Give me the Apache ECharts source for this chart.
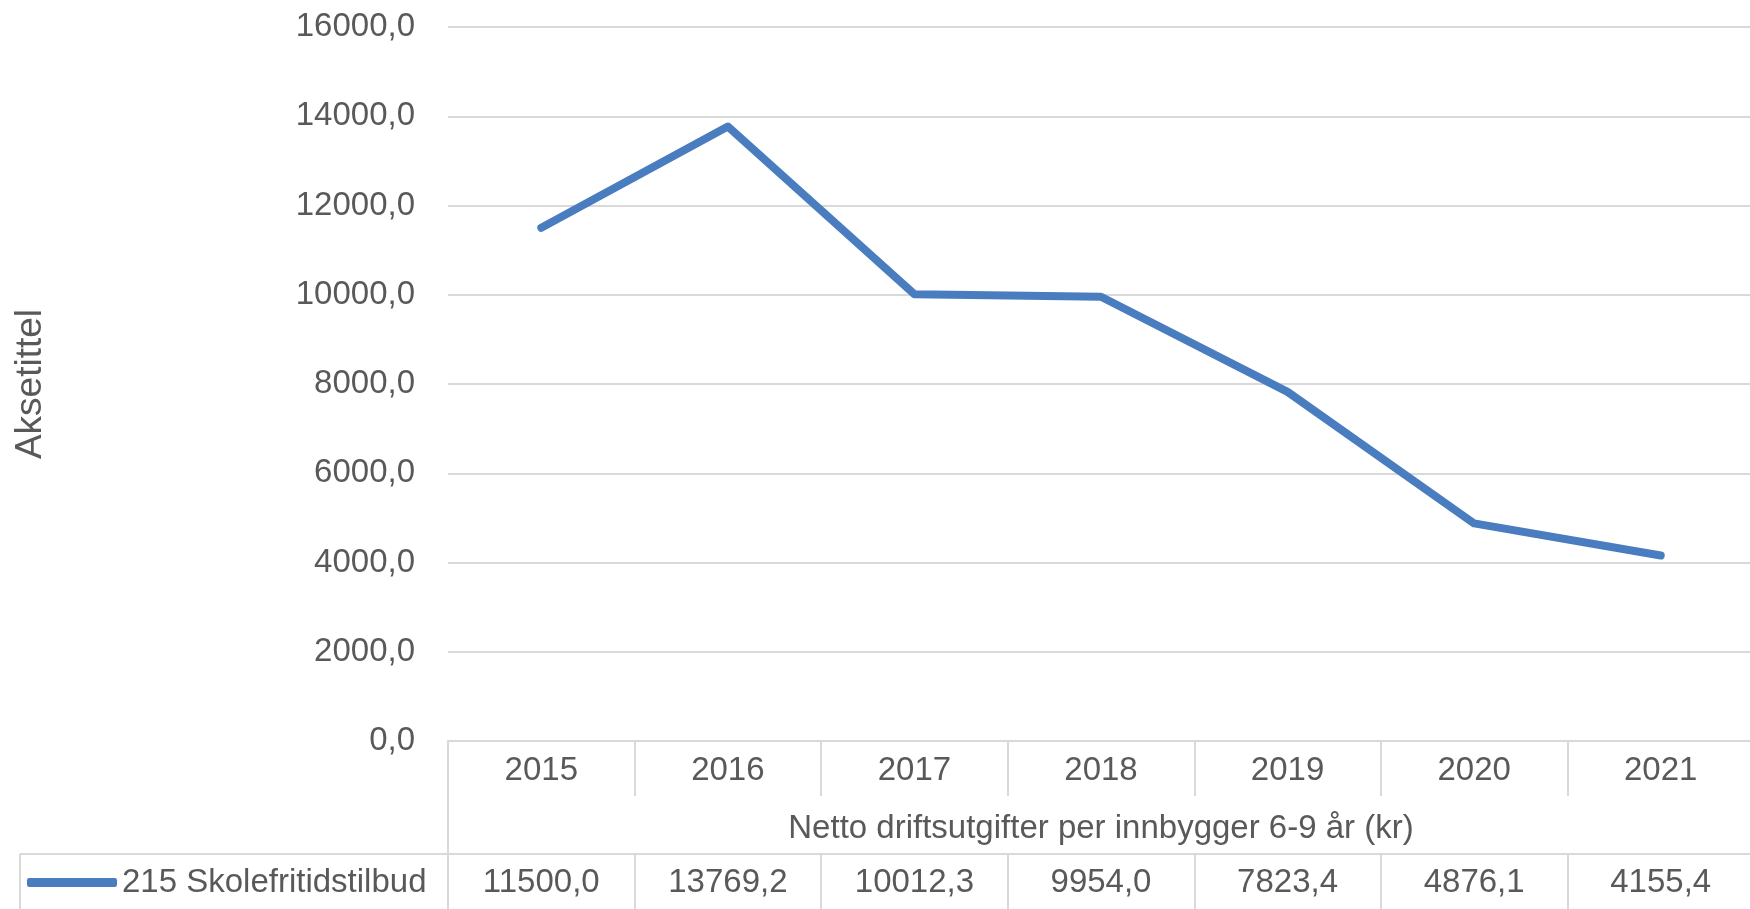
<!DOCTYPE html>
<html>
<head>
<meta charset="utf-8">
<script src="https://cdn.jsdelivr.net/npm/echarts@6/dist/echarts.min.js"></script>
<style>
  html, body { margin: 0; padding: 0; background: #ffffff; }
  #chart { width: 1750px; height: 909px; }
</style>
</head>
<body>
<div id="chart"></div>
<script>
// Netto driftsutgifter per innbygger 6-9 år (kr), 215 Skolefritidstilbud
const years = ['2015', '2016', '2017', '2018', '2019', '2020', '2021'];
const skolefritid = [11500.0, 13769.2, 10012.3, 9954.0, 7823.4, 4876.1, 4155.4];
const seriesName = '215 Skolefritidstilbud';
const categoryTitle = 'Netto driftsutgifter per innbygger 6-9 år (kr)';
const valueTitle = 'Aksetittel';
const yMin = 0, yMax = 16000, yStep = 2000;

// Norwegian number format with one decimal and comma separator
const fmt = v => Number(v).toFixed(1).replace('.', ',');

const FONT = 'Liberation Sans';
const TEXT = '#595959';
const RULE = '#d9d9d9';
const BLUE = '#4a7dbf';

// layout of the plot and the data table below it
const W = 1750, H = 909;
const plotLeft = 448, plotTop = 27, plotBottom = 741;
const rowSplit = 854;          // line between the title row and the values row
const tableLeft = 20;

const chart = echarts.init(document.getElementById('chart'), null, { renderer: 'canvas' });

const line = (x1, y1, x2, y2) => ({
  type: 'line',
  shape: { x1, y1, x2, y2 },
  style: { stroke: RULE, lineWidth: 2 },
  silent: true
});

chart.setOption({
  animation: false,
  backgroundColor: '#ffffff',
  textStyle: { fontFamily: FONT, color: TEXT },
  grid: {
    left: plotLeft, right: -4, top: plotTop, bottom: H - plotBottom,
    containLabel: false, outerBoundsMode: 'none'
  },
  legend: {
    data: [{ name: seriesName, icon: 'roundRect' }],
    left: 27,
    top: 866,
    padding: 0,
    itemWidth: 90,
    itemHeight: 9,
    textStyle: { fontFamily: FONT, fontSize: 33, color: TEXT, padding: [0, 0, 0, 0] },
    selectedMode: false
  },
  xAxis: [
    {
      // year row with its cell dividers
      type: 'category',
      data: years,
      position: 'bottom',
      boundaryGap: true,
      axisLine: { show: true, onZero: false, lineStyle: { color: RULE, width: 2 } },
      axisTick: { show: true, interval: 0, length: 55, lineStyle: { color: RULE, width: 2 } },
      axisLabel: { interval: 0, margin: 13, fontFamily: FONT, fontSize: 33, color: TEXT },
      name: categoryTitle,
      nameLocation: 'middle',
      nameGap: 71,
      nameTextStyle: { fontFamily: FONT, fontSize: 33, color: TEXT },
      splitLine: { show: false }
    },
    {
      // values row of the data table
      type: 'category',
      data: years,
      position: 'bottom',
      offset: rowSplit - plotBottom,
      boundaryGap: true,
      axisLine: { show: true, onZero: false, lineStyle: { color: RULE, width: 2 } },
      axisTick: { show: true, interval: 0, length: 60, lineStyle: { color: RULE, width: 2 } },
      axisLabel: {
        interval: 0, margin: 12, fontFamily: FONT, fontSize: 33, color: TEXT,
        formatter: (v, i) => fmt(skolefritid[i])
      },
      splitLine: { show: false }
    }
  ],
  yAxis: {
    type: 'value',
    min: yMin,
    max: yMax,
    interval: yStep,
    axisLine: { show: false },
    axisTick: { show: false },
    axisLabel: { margin: 33, fontFamily: FONT, fontSize: 33, color: TEXT, formatter: v => fmt(v) },
    splitLine: { show: true, lineStyle: { color: RULE, width: 2 } },
    name: valueTitle,
    nameLocation: 'middle',
    nameRotate: 90,
    nameGap: 399,
    nameTextStyle: { fontFamily: FONT, fontSize: 37, color: TEXT }
  },
  series: [
    {
      name: seriesName,
      type: 'line',
      data: skolefritid,
      xAxisIndex: 0,
      symbol: 'none',
      lineStyle: { color: BLUE, width: 8, cap: 'round', join: 'round' },
      itemStyle: { color: BLUE }
    }
  ],
  graphic: [
    // left column of the data table (legend cell)
    line(plotLeft, plotBottom, plotLeft, H),
    line(tableLeft, rowSplit, plotLeft, rowSplit),
    line(tableLeft, rowSplit, tableLeft, H)
  ]
});
</script>
</body>
</html>
